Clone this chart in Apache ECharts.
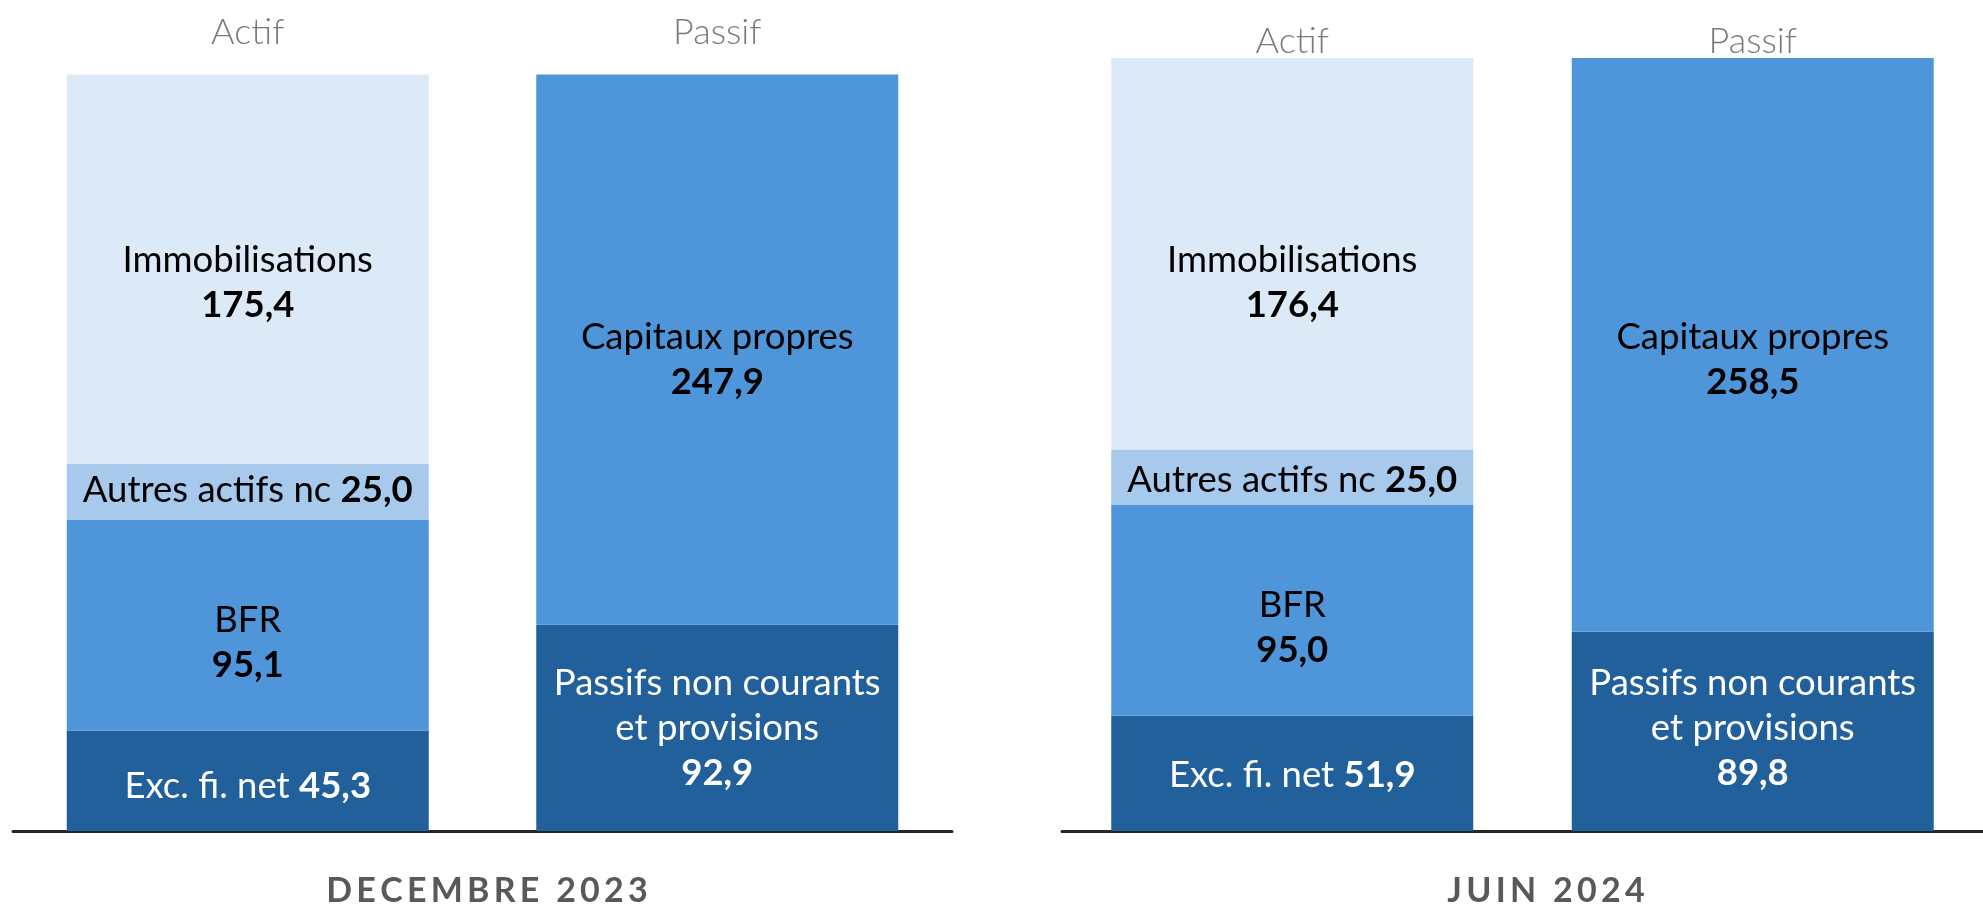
<!DOCTYPE html>
<html><head><meta charset="utf-8">
<script src="https://cdn.jsdelivr.net/npm/echarts@6/dist/echarts.min.js"></script>
<style>html,body{margin:0;padding:0;background:#fff}#c{width:1983px;height:904px}</style>
</head><body><div id="c"></div>
<script>
const categories = ['Actif', 'Passif'];
const periods = ['DECEMBRE 2023', 'JUIN 2024'];
const excFiNet = [45.3, 51.9];
const bfr = [95.1, 95.0];
const autresActifs = [25.0, 25.0];
const immobilisations = [175.4, 176.4];
const passifsNonCourants = [92.9, 89.8];
const capitauxPropres = [247.9, 258.5];

const FONT = 'Lato';
const C_DARK = '#21609B', C_MID = '#4F95D9', C_LIGHTMID = '#A7C9EB', C_LIGHT = '#DCE9F6';
const fmt = v => v.toFixed(1).replace('.', ',');
const spaced = s => s.split('').join('\u2009');

// label vertical nudges per panel [exc, bfr, autres, immo, pnc, cap]
const nudges = [[6, 18, -1, 13, 0, 10], [2, 17, 3, 29, -3, 15]];
const gridLefts = [13, 1062];
const titleCenters = [482, 1541];
const topAxisOffsets = [-18, -27];

const rich = {
  n: {fontFamily: FONT, fontSize: 36.5, lineHeight: 45},
  b: {fontFamily: FONT, fontSize: 36.5, fontWeight: 'bold', lineHeight: 45}
};

const grids = [], xAxes = [], yAxes = [], series = [], titles = [];
periods.forEach((p, g) => {
  grids.push({left: gridLefts[g], width: 939, top: 32, height: 799});
  xAxes.push({gridIndex: g, type: 'category', data: categories, position: 'bottom',
    axisLine: {show: true, lineStyle: {color: '#262626', width: 3}},
    axisTick: {show: false}, axisLabel: {show: false}});
  xAxes.push({gridIndex: g, type: 'category', data: categories, position: 'top', offset: topAxisOffsets[g],
    axisLine: {show: false}, axisTick: {show: false},
    axisLabel: {show: true, margin: 0, color: '#7a7a7a', fontFamily: FONT, fontWeight: 300, fontSize: 36}});
  yAxes.push({gridIndex: g, type: 'value', min: 0, max: 360, show: false, splitLine: {show: false}});
  titles.push({text: spaced(p), left: titleCenters[g], top: 869, textAlign: 'center',
    textStyle: {fontFamily: FONT, fontWeight: 'bold', fontSize: 34, color: '#595959'}});

  const defs = [
    {name: 'Exc. fi. net', vals: excFiNet, col: 0, color: C_DARK, txt: '#fff', oneLine: true},
    {name: 'BFR', vals: bfr, col: 0, color: C_MID, txt: '#000'},
    {name: 'Autres actifs nc', vals: autresActifs, col: 0, color: C_LIGHTMID, txt: '#000', oneLine: true},
    {name: 'Immobilisations', vals: immobilisations, col: 0, color: C_LIGHT, txt: '#000'},
    {name: 'Passifs non courants\net provisions', vals: passifsNonCourants, col: 1, color: C_DARK, txt: '#fff'},
    {name: 'Capitaux propres', vals: capitauxPropres, col: 1, color: C_MID, txt: '#000'}
  ];
  defs.forEach((d, i) => {
    const data = categories.map((c, k) => k === d.col ? d.vals[g] : '-');
    const nameTxt = d.name.split('\n').map(l => '{n|' + l + '}').join('\n');
    series.push({
      type: 'bar', name: d.name, xAxisIndex: g * 2, yAxisIndex: g, stack: 'bal' + g,
      barWidth: 362, data: data, itemStyle: {color: d.color}, silent: true,
      label: {show: true, position: 'inside', offset: [0, nudges[g][i]], color: d.txt,
        rich: {n: Object.assign({color: d.txt}, rich.n), b: Object.assign({color: d.txt}, rich.b)},
        formatter: (pr) => d.oneLine ? '{n|' + d.name + ' }{b|' + fmt(pr.value) + '}'
                                   : nameTxt + '\n{b|' + fmt(pr.value) + '}'}
    });
  });
});

const chart = echarts.init(document.getElementById('c'), null, {renderer: 'canvas'});
chart.setOption({animation: false, title: titles, grid: grids, xAxis: xAxes, yAxis: yAxes, series: series});
</script></body></html>
